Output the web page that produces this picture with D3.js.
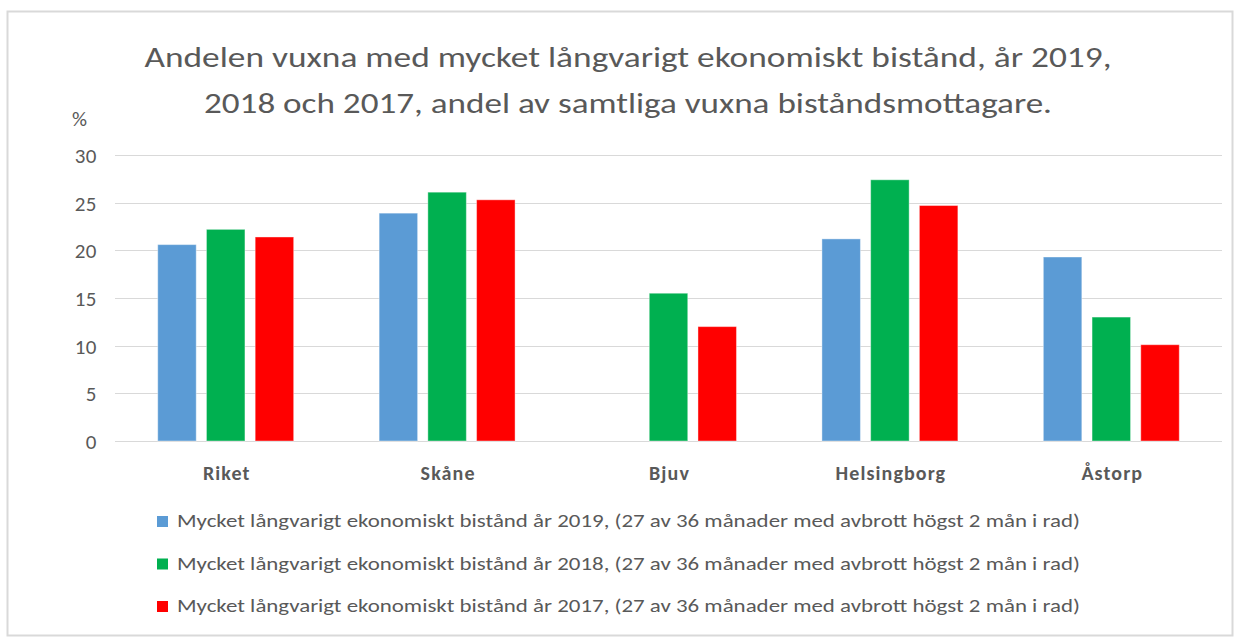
<!DOCTYPE html>
<html>
<head>
<meta charset="utf-8">
<script src="https://cdn.jsdelivr.net/npm/d3@7"></script>
<style>
  body { margin: 0; background: #fff; }
  text { font-family: Calibri, Carlito, Lato, sans-serif; fill: #595959; }
</style>
</head>
<body>
<div id="chart"></div>
<script>
// Data
const categories = ["Riket", "Skåne", "Bjuv", "Helsingborg", "Åstorp"];
const seriesNames = [
  "Mycket långvarigt ekonomiskt bistånd år 2019, (27 av 36 månader med avbrott högst 2 mån i rad)",
  "Mycket långvarigt ekonomiskt bistånd år 2018, (27 av 36 månader med avbrott högst 2 mån i rad)",
  "Mycket långvarigt ekonomiskt bistånd år 2017, (27 av 36 månader med avbrott högst 2 mån i rad)"
];
const values2019 = [20.6, 23.9, null, 21.2, 19.3];
const values2018 = [22.2, 26.1, 15.5, 27.4, 13.0];
const values2017 = [21.4, 25.3, 12.0, 24.7, 10.1];
const yTicks = [0, 5, 10, 15, 20, 25, 30];
const colors = ["#5B9BD5", "#00B050", "#FF0000"];
const titleLines = [
  "Andelen vuxna med mycket långvarigt ekonomiskt bistånd, år 2019,",
  "2018 och 2017, andel av samtliga vuxna biståndsmottagare."
];
const titleWidths = [967, 848];

const allSeries = [values2019, values2018, values2017];

const W = 1239, H = 643;
const svg = d3.select("#chart").append("svg")
  .attr("width", W)
  .attr("height", H);

// chart frame
svg.append("rect")
  .attr("x", 7.5).attr("y", 11.5)
  .attr("width", 1225).attr("height", 624)
  .attr("fill", "#fff")
  .attr("stroke", "#d9d9d9")
  .attr("stroke-width", 2);

// title
svg.append("g").selectAll("text")
  .data(titleLines)
  .join("text")
    .attr("x", 628)
    .attr("y", (d, i) => 67 + i * 46)
    .attr("text-anchor", "middle")
    .attr("textLength", (d, i) => titleWidths[i])
    .attr("lengthAdjust", "spacingAndGlyphs")
    .style("font-size", "29px")
    .text(d => d);

const left = 115, right = 1222;
const y = d3.scaleLinear().domain([0, 30]).range([441, 155]);

const x0 = d3.scaleBand()
  .domain(categories)
  .range([left, right])
  .paddingInner(0.386)
  .paddingOuter(0.193);

const x1 = d3.scaleBand()
  .domain(d3.range(3))
  .range([0, x0.bandwidth()])
  .paddingInner(0.21);

// gridlines
svg.append("g").selectAll("line")
  .data(yTicks)
  .join("line")
    .attr("x1", left).attr("x2", right)
    .attr("y1", d => Math.round(y(d)) + 0.5)
    .attr("y2", d => Math.round(y(d)) + 0.5)
    .attr("stroke", "#d9d9d9")
    .attr("stroke-width", 1);

// y axis labels
const yAxis = d3.axisLeft(y).tickValues(yTicks).tickSize(0).tickPadding(0);
const yg = svg.append("g")
  .attr("transform", "translate(97,0)")
  .call(yAxis);
yg.select(".domain").remove();
yg.selectAll("text")
  .attr("dy", "0.35em")
  .style("font-size", "21px")
  .style("letter-spacing", "0.5px")
  .attr("fill", "#595959");

svg.append("text")
  .attr("x", 72).attr("y", 126)
  .style("font-size", "21px")
  .text("%");

// bars
const groups = svg.append("g").selectAll("g")
  .data(categories)
  .join("g")
    .attr("transform", d => "translate(" + x0(d) + ",0)");

groups.selectAll("rect")
  .data((c, ci) => allSeries.map((s, si) => ({ si: si, v: s[ci] })).filter(d => d.v != null))
  .join("rect")
    .attr("x", d => x1(d.si))
    .attr("width", x1.bandwidth())
    .attr("y", d => y(d.v))
    .attr("height", d => y(0) - y(d.v))
    .attr("fill", d => colors[d.si])
    .attr("stroke", "#fff")
    .attr("stroke-opacity", 0.4)
    .attr("stroke-width", 1);

// category labels
svg.append("g").selectAll("text")
  .data(categories)
  .join("text")
    .attr("x", d => x0(d) + x0.bandwidth() / 2 + 1)
    .attr("y", 480)
    .attr("text-anchor", "middle")
    .style("font-size", "20px")
    .style("font-weight", "bold")
    .style("letter-spacing", "1.1px")
    .text(d => d);

// legend
const legend = svg.append("g").selectAll("g")
  .data(seriesNames)
  .join("g")
    .attr("transform", (d, i) => "translate(157," + (527 + i * 42.5) + ")");

legend.append("rect")
  .attr("x", 0).attr("y", -11)
  .attr("width", 11).attr("height", 11)
  .attr("fill", (d, i) => colors[i]);

legend.append("text")
  .attr("x", 20).attr("y", 0)
  .attr("textLength", 903)
  .attr("lengthAdjust", "spacingAndGlyphs")
  .style("font-size", "19px")
  .text(d => d);
</script>
</body>
</html>
